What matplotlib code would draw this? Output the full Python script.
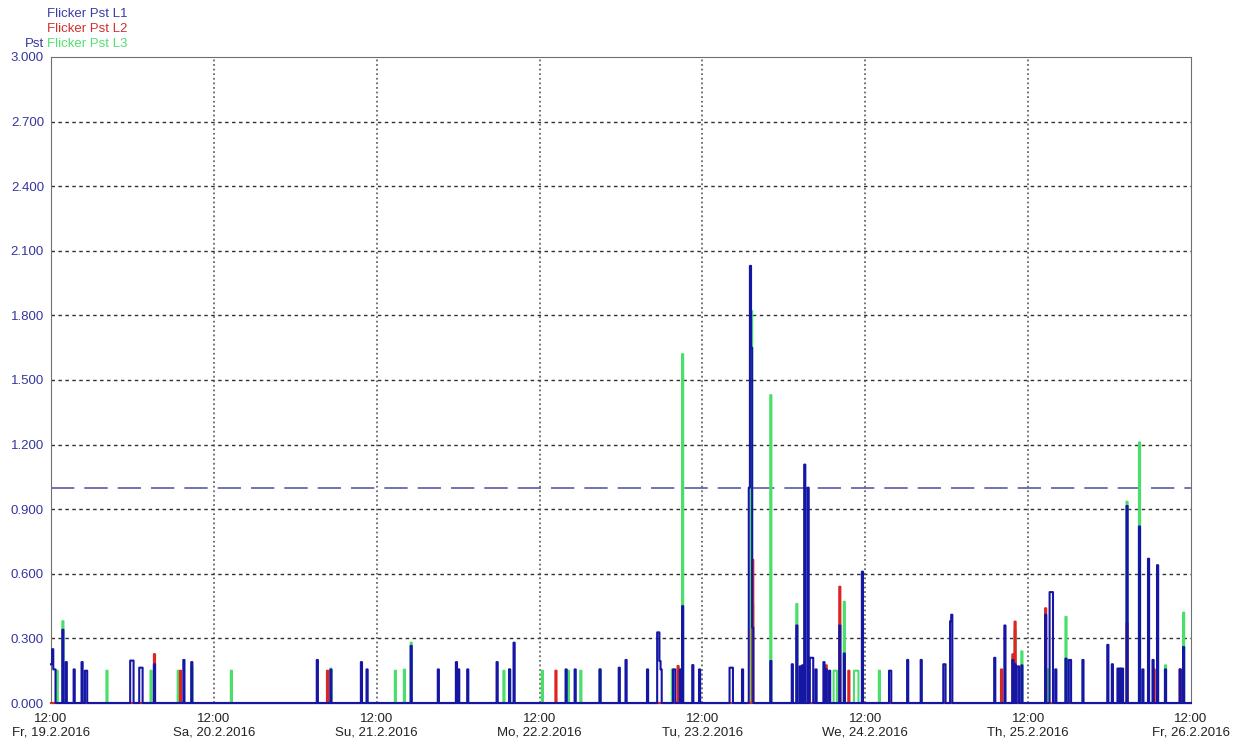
import numpy as np
import matplotlib.pyplot as plt
from datetime import datetime, timedelta

# Pst pulses: (hours after Fr 19.2.2016 12:00, Pst value, number of 10-min intervals)
l1_pulses = [
    (0.0, 0.18, 1), (0.17, 0.25, 1), (0.33, 0.156, 2), (1.62, 0.34, 1), (2.21, 0.19, 1),
    (3.25, 0.156, 1), (4.57, 0.19, 1), (5.0, 0.15, 2), (11.7, 0.197, 3), (13.0, 0.164, 3),
    (15.19, 0.18, 1), (19.47, 0.2, 1), (20.65, 0.19, 1), (39.24, 0.2, 1), (41.15, 0.155, 1),
    (45.73, 0.19, 1), (46.46, 0.156, 1), (52.95, 0.265, 1), (56.94, 0.156, 1), (59.59, 0.19, 1),
    (60.03, 0.156, 1), (61.36, 0.156, 1), (65.64, 0.19, 1), (67.56, 0.156, 1), (68.15, 0.28, 1),
    (75.82, 0.156, 1), (77.14, 0.156, 1), (80.83, 0.156, 1), (83.63, 0.164, 1), (84.67, 0.2, 1),
    (87.91, 0.156, 1), (89.33, 0.328, 2), (89.67, 0.195, 1), (89.83, 0.156, 1), (91.6, 0.156, 1),
    (91.89, 0.156, 1), (92.63, 0.156, 1), (92.93, 0.45, 1), (94.55, 0.176, 1), (95.43, 0.156, 1),
    (100.0, 0.164, 3), (101.78, 0.156, 1), (102.83, 1.0, 1), (103.0, 2.03, 1), (103.17, 1.65, 1),
    (103.33, 0.35, 1), (106.05, 0.195, 1), (109.15, 0.18, 1), (109.89, 0.36, 1), (110.33, 0.17, 1),
    (110.63, 0.175, 1), (110.92, 1.107, 1), (111.51, 1.0, 1), (111.83, 0.21, 3), (112.69, 0.156, 1),
    (113.87, 0.19, 1), (114.17, 0.156, 1), (114.61, 0.15, 1), (116.23, 0.36, 1), (116.82, 0.23, 1),
    (119.48, 0.61, 1), (123.5, 0.15, 2), (126.11, 0.2, 1), (128.18, 0.2, 1), (131.5, 0.18, 2),
    (132.46, 0.38, 1), (132.75, 0.41, 1), (138.95, 0.21, 1), (140.42, 0.36, 1), (141.6, 0.2, 1),
    (142.04, 0.18, 1), (142.33, 0.17, 2), (143.08, 0.175, 1), (146.47, 0.41, 1), (147.17, 0.515, 3),
    (147.94, 0.156, 1), (149.42, 0.206, 1), (150.0, 0.2, 2), (151.93, 0.2, 1), (155.61, 0.27, 1),
    (156.35, 0.18, 1), (157.09, 0.16, 1), (157.53, 0.16, 1), (157.83, 0.16, 1), (158.56, 0.915, 1),
    (160.33, 0.82, 1), (160.78, 0.156, 1), (161.66, 0.67, 1), (162.4, 0.2, 1), (162.99, 0.64, 1),
    (164.17, 0.156, 1), (166.38, 0.156, 1), (166.82, 0.26, 1),
]
l2_pulses = [
    (15.19, 0.227, 1), (19.03, 0.15, 1), (40.71, 0.15, 1), (74.34, 0.15, 1), (92.34, 0.172, 1),
    (103.4, 0.665, 1), (114.17, 0.175, 1), (116.23, 0.54, 1), (117.56, 0.15, 1), (139.98, 0.156, 1),
    (141.6, 0.226, 1), (142.04, 0.378, 1), (146.47, 0.44, 1), (158.56, 0.37, 1), (162.55, 0.156, 1),
    (166.38, 0.156, 1),
]
l3_pulses = [
    (0.89, 0.15, 1), (1.62, 0.38, 1), (8.11, 0.15, 1), (14.75, 0.15, 1), (18.59, 0.15, 1),
    (20.65, 0.17, 1), (26.55, 0.15, 1), (41.15, 0.16, 1), (50.74, 0.15, 1), (51.92, 0.155, 1),
    (52.95, 0.28, 1), (66.67, 0.15, 1), (67.56, 0.156, 1), (72.28, 0.15, 1), (76.11, 0.15, 1),
    (78.03, 0.15, 1), (80.83, 0.156, 1), (91.45, 0.156, 1), (92.93, 1.62, 1), (103.1, 1.82, 1),
    (103.4, 0.46, 1), (106.05, 1.43, 1), (109.89, 0.46, 1), (115.25, 0.15, 3), (116.82, 0.47, 1),
    (118.33, 0.15, 4), (121.98, 0.15, 1), (142.04, 0.34, 1), (143.08, 0.24, 1), (146.91, 0.156, 1),
    (149.42, 0.40, 1), (157.53, 0.16, 1), (158.56, 0.935, 1), (160.33, 1.21, 1), (164.17, 0.175, 1),
    (166.82, 0.42, 1),
]
pst_limit = 1.0
start = datetime(2016, 2, 19, 12, 0)
n_days = 7

series = [
    ('Flicker Pst L3', l3_pulses, '#4ade6a'),
    ('Flicker Pst L2', l2_pulses, '#e02424'),
    ('Flicker Pst L1', l1_pulses, '#1616a4'),
]


def zu_stufen(pulses, hours):
    # 10-Minuten-Raster, ausserhalb der Pulse 0
    n = hours * 6
    vals = np.zeros(n + 1)
    for h, v, cnt in pulses:
        i = int(round(h * 6))
        vals[i:i + cnt] = v
    t = np.arange(n + 1) / 6.0
    return t, vals


fig = plt.figure(figsize=(12.38, 7.44), dpi=100)
ax = fig.add_axes([0.0412, 0.0551, 0.9208, 0.8683])
plt.rcParams['font.family'] = ['Liberation Sans', 'DejaVu Sans']

for name, pulses, col in series:
    t, v = zu_stufen(pulses, n_days * 24)
    ax.plot(t, v, drawstyle='steps-post', color=col, lw=1.5, clip_on=False, zorder=3)

ax.axhline(pst_limit, color='#5a5aa8', lw=1.2, dashes=(14, 6), zorder=2)

ax.set_xlim(0, n_days * 24)
ax.set_ylim(0, 3.0)
yt = np.arange(0, 3.01, 0.3)
ax.set_yticks(yt)
ax.set_yticklabels(['%.3f' % y for y in yt], color='#3535a0', fontsize=9.5,
                   family='Liberation Sans')
wochentage = ['Mo', 'Tu', 'We', 'Th', 'Fr', 'Sa', 'Su']
xt = np.arange(0, n_days * 24 + 1, 24)
labels = []
for h in xt:
    d = start + timedelta(hours=int(h))
    labels.append('%s\n%s, %d.%d.%d' % (d.strftime('%H:%M'), wochentage[d.weekday()],
                                          d.day, d.month, d.year))
ax.set_xticks(xt)
ax.set_xticklabels(labels, fontsize=9.5, color='#222222', linespacing=1.2,
                   family='Liberation Sans')
ax.tick_params(axis='x', length=0, pad=7)
ax.tick_params(axis='y', length=0, pad=5)

for y in yt[1:-1]:
    ax.axhline(y, color='#303030', lw=1.0, dashes=(2.5, 2.5), zorder=1)
for x in xt[1:-1]:
    ax.axvline(x, color='#505050', lw=1.1, dashes=(1.2, 1.8), zorder=1)

for s in ['left', 'top', 'right']:
    ax.spines[s].set_color('#707070')
ax.spines['bottom'].set_color('#2020a0')

fig.text(0.038, 0.989, 'Flicker Pst L1', color='#3a3aa8', fontsize=9.5, va='top')
fig.text(0.038, 0.969, 'Flicker Pst L2', color='#d03030', fontsize=9.5, va='top')
fig.text(0.038, 0.949, 'Flicker Pst L3', color='#50e070', fontsize=9.5, va='top')
fig.text(0.0355, 0.949, 'Pst', color='#3535a0', fontsize=9.5, va='top', ha='right')

fig.savefig('out.png', dpi=100)
